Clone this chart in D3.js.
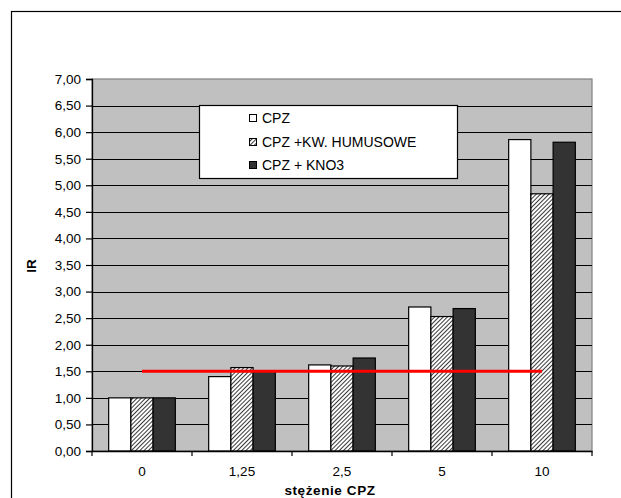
<!DOCTYPE html>
<html><head><meta charset="utf-8">
<script src="https://cdn.jsdelivr.net/npm/d3@7"></script>
<style>body{margin:0;background:#fff}svg{display:block}text{font-family:"Liberation Sans",Arial,sans-serif}</style>
</head><body>
<svg id="c" width="621" height="498"></svg>
<script>
const categories = ["0", "1,25", "2,5", "5", "10"];
const seriesNames = ["CPZ", "CPZ +KW. HUMUSOWE", "CPZ + KNO3"];
const cpz = [1.00, 1.40, 1.62, 2.71, 5.86];
const cpzHumus = [1.00, 1.57, 1.60, 2.53, 4.84];
const cpzKno3 = [1.00, 1.50, 1.75, 2.68, 5.81];
const refLine = [1.5, 1.5, 1.5, 1.5, 1.5];
const yTicks = [0, 0.5, 1, 1.5, 2, 2.5, 3, 3.5, 4, 4.5, 5, 5.5, 6, 6.5, 7];
const yTitle = "IR";
const xTitle = "stężenie CPZ";

const svg = d3.select("#c");
const L = 92, R = 592, T = 79, B = 451;
const fs = 13.5;

// outer border
svg.append("rect").attr("x", 11.5).attr("y", 11.5).attr("width", 640).attr("height", 520)
  .attr("fill", "#fff").attr("stroke", "#000").attr("stroke-width", 1.2);

const defs = svg.append("defs");
const pat = defs.append("pattern").attr("id", "hatch").attr("patternUnits", "userSpaceOnUse")
  .attr("width", 3).attr("height", 3).attr("patternTransform", "rotate(45)");
pat.append("rect").attr("width", 3).attr("height", 3).attr("fill", "#fff");
pat.append("line").attr("x1", 0).attr("y1", 0).attr("x2", 0).attr("y2", 3)
  .attr("stroke", "#222").attr("stroke-width", 1.8);

const x = d3.scaleBand().domain(categories).range([L, R]).padding(0);
const bw = x.bandwidth();
const unit = bw / 4.5;
const x1 = d3.scaleBand().domain(seriesNames).range([unit * 0.75, bw - unit * 0.75]).padding(0);
const y = d3.scaleLinear().domain([0, 7]).range([B, T]);

// plot area
svg.append("rect").attr("x", L).attr("y", T).attr("width", R - L).attr("height", B - T)
  .attr("fill", "#C0C0C0").attr("stroke", "#808080").attr("stroke-width", 1.2);

// gridlines
svg.append("g").selectAll("line").data(yTicks.filter(v => v > 0 && v < 7)).join("line")
  .attr("x1", L).attr("x2", R).attr("y1", d => Math.round(y(d)) + 0.5).attr("y2", d => Math.round(y(d)) + 0.5)
  .attr("stroke", "#000").attr("stroke-width", 1);

// bars
const seriesData = [cpz, cpzHumus, cpzKno3];
const fills = ["#fff", "url(#hatch)", "#333333"];
seriesData.forEach((vals, si) => {
  svg.append("g").selectAll("rect").data(vals).join("rect")
    .attr("x", (d, i) => x(categories[i]) + x1(seriesNames[si]))
    .attr("y", d => y(d))
    .attr("width", x1.bandwidth())
    .attr("height", d => B - y(d))
    .attr("fill", fills[si]).attr("stroke", "#000").attr("stroke-width", 1.2);
});

// y axis
const fmt = v => d3.format(".2f")(v).replace(".", ",");
const yAxis = d3.axisLeft(y).tickValues(yTicks).tickFormat(fmt).tickSize(6).tickPadding(5);
const gy = svg.append("g").attr("transform", `translate(${L},0)`).call(yAxis);
gy.select(".domain").attr("stroke", "#000").attr("stroke-width", 1.3);
gy.selectAll(".tick line").attr("stroke", "#000").attr("stroke-width", 1.2);
gy.selectAll("text").attr("font-size", fs).attr("fill", "#000").attr("font-family", '"Liberation Sans",Arial,sans-serif');

// x axis
const xAxis = d3.axisBottom(x).tickSize(0).tickPadding(15);
const gx = svg.append("g").attr("transform", `translate(0,${B})`).call(xAxis);
gx.select(".domain").attr("stroke", "#000").attr("stroke-width", 1.3);
gx.selectAll("text").attr("font-size", fs).attr("fill", "#000").attr("font-family", '"Liberation Sans",Arial,sans-serif');
// category boundary ticks
svg.append("g").selectAll("line").data(categories.concat(["_end"])).join("line")
  .attr("x1", (d, i) => L + i * bw).attr("x2", (d, i) => L + i * bw)
  .attr("y1", B).attr("y2", B + 5).attr("stroke", "#000").attr("stroke-width", 1.2);

// reference line
const line = d3.line().x((d, i) => x(categories[i]) + bw / 2).y(d => y(d));
svg.append("path").attr("d", line(refLine)).attr("fill", "none").attr("stroke", "#FF0000").attr("stroke-width", 3);

// legend
const lg = svg.append("g");
lg.append("rect").attr("x", 199.5).attr("y", 105.5).attr("width", 258).attr("height", 73)
  .attr("fill", "#fff").attr("stroke", "#000").attr("stroke-width", 1.2);
const rowsY = [118, 142, 165];
seriesNames.forEach((n, i) => {
  lg.append("rect").attr("x", 249.5).attr("y", rowsY[i] - 3.5).attr("width", 7).attr("height", 7)
    .attr("fill", fills[i]).attr("stroke", "#000").attr("stroke-width", 1);
  lg.append("text").attr("x", 262).attr("y", rowsY[i]).attr("dy", "0.36em").attr("font-size", 14).text(n);
});

// titles
svg.append("text").attr("transform", "translate(36,266) rotate(-90)").attr("text-anchor", "middle")
  .attr("font-size", fs).attr("font-weight", "bold").text(yTitle);
svg.append("text").attr("x", 330).attr("y", 495).attr("text-anchor", "middle")
  .attr("font-size", 13.5).attr("letter-spacing", 0.6).attr("font-weight", "bold").text(xTitle);
</script>
</body></html>
